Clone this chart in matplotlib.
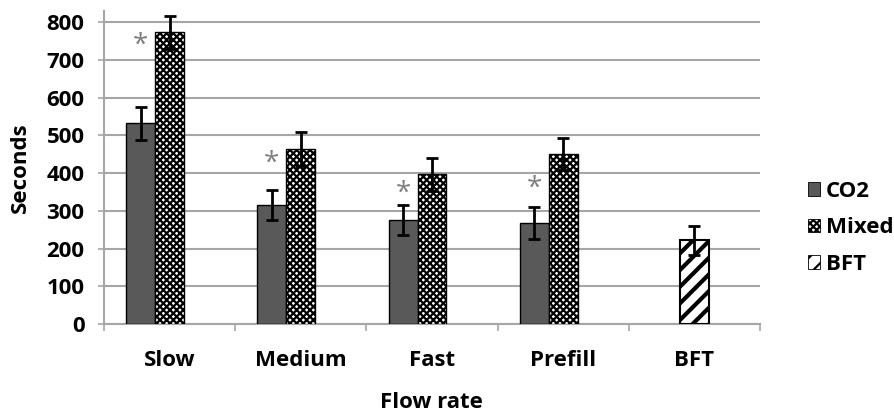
import numpy as np
import matplotlib.pyplot as plt

plt.rcParams['font.family'] = ['Open Sans', 'DejaVu Sans']
plt.rcParams['font.weight'] = 'bold'
plt.rcParams['hatch.linewidth'] = 1.6

# data (seconds)
categories = ["Slow", "Medium", "Fast", "Prefill", "BFT"]
co2 = [532, 315, 275, 268]
co2_err = [43, 40, 40, 42]
mixed = [773, 464, 397, 450]
mixed_err = [43, 45, 44, 42]
bft = [222]
bft_err = [38]
# asterisk heights (significance marks over CO2 bars)
star_y = [752, 440, 360, 372]

FS = 16

fig = plt.figure(figsize=(8.94, 4.12), dpi=100)
ax = fig.add_axes([0.1163, 0.2136, 0.7337, 0.76])

w = 0.22
x = np.arange(len(categories)) + 0.5
ekw = dict(ecolor='black', elinewidth=2, capsize=4, capthick=2)

ax.bar(x[:4] - w, co2, w, color='#595959', edgecolor='black', linewidth=1,
       yerr=co2_err, error_kw=ekw, label='CO2', zorder=3)
ax.bar(x[:4], mixed, w, color='white', edgecolor='black', linewidth=1,
       hatch='xxxxx', yerr=mixed_err, error_kw=ekw, label='Mixed', zorder=3)
bb = ax.bar(x[4:], bft, w, color='white', edgecolor='black', linewidth=1.5,
            hatch='//', yerr=bft_err, error_kw=ekw, label='BFT', zorder=3)
for p in bb:
    if hasattr(p, 'set_hatch_linewidth'):
        p.set_hatch_linewidth(3)

for xi, yi in zip(x[:4] - w, star_y):
    ax.annotate('*', (xi, yi), xytext=(0, -4), textcoords='offset points',
                ha='center', va='center', fontsize=20, color='#7f7f7f',
                fontweight='normal', zorder=4)

ax.set_xlim(0, len(categories))
ax.set_ylim(0, 830)
ax.set_yticks(np.arange(0, 801, 100))
ax.yaxis.grid(True, color='#a6a6a6', linewidth=1.5, zorder=0)
ax.set_axisbelow(True)

ax.set_xticks(np.arange(0, len(categories) + 1))
ax.set_xticklabels([])
ax.set_xticks(x, minor=True)
ax.set_xticklabels(categories, minor=True, fontsize=FS, fontweight='bold')
ax.tick_params(axis='x', which='minor', length=0, pad=19)
ax.tick_params(axis='x', which='major', length=5, color='#a6a6a6', width=1.2)
ax.tick_params(axis='y', length=8, direction='inout', color='#a6a6a6', width=1.2,
               labelsize=FS, pad=10)
for lab in ax.get_yticklabels():
    lab.set_fontweight('bold')

for s in ['top', 'right']:
    ax.spines[s].set_visible(False)
for s in ['left', 'bottom']:
    ax.spines[s].set_color('#a6a6a6')
    ax.spines[s].set_linewidth(1.5)

ax.set_ylabel('Seconds', fontsize=FS, fontweight='bold', labelpad=11)
ax.set_xlabel('Flow rate', fontsize=FS, fontweight='bold', labelpad=15)

leg = ax.legend(loc='center left', bbox_to_anchor=(1.06, 0.307), frameon=False,
                borderaxespad=0, handlelength=0.55, handleheight=0.55,
                handletextpad=0.25, labelspacing=0.7,
                prop={'weight': 'bold', 'size': FS})
for h in leg.legend_handles:
    h.set_linewidth(0.6)

fig.savefig('out.png', dpi=100)
